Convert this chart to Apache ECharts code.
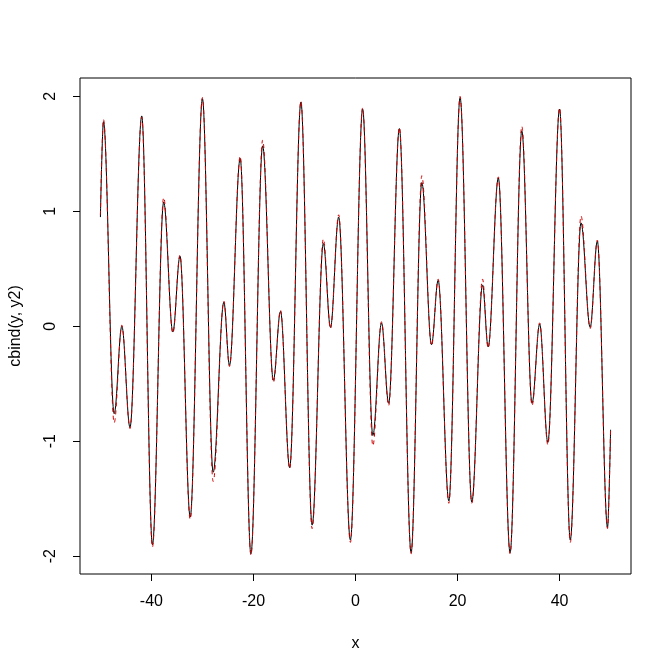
<!DOCTYPE html>
<html>
<head>
<meta charset="utf-8">
<script src="https://cdn.jsdelivr.net/npm/echarts@6/dist/echarts.min.js"></script>
<style>html,body{margin:0;padding:0;background:#fff}#c{width:672px;height:672px}</style>
</head>
<body>
<div id="c"></div>
<script>
// x positions of the turning points
const xs = [-50, -49.4, -47.3, -45.8, -44.2, -41.9, -39.8, -37.6, -35.8, -34.4, -32.4, -30.0, -27.9, -25.8, -24.7, -22.6, -20.5, -18.2, -16.1, -14.7, -12.9, -10.7, -8.5, -6.3, -4.9, -3.3, -1.0, 1.4, 3.4, 5.1, 6.5, 8.6, 10.9, 13.0, 14.9, 16.2, 18.3, 20.5, 22.8, 24.9, 26.0, 28.0, 30.3, 32.6, 34.6, 36.1, 37.7, 40.0, 42.1, 44.2, 46.0, 47.4, 49.4, 50];
// y (black, solid)
const y = [0.95, 1.78, -0.76, 0.0, -0.88, 1.83, -1.90, 1.08, -0.05, 0.61, -1.66, 1.98, -1.27, 0.21, -0.34, 1.46, -1.98, 1.57, -0.47, 0.13, -1.23, 1.95, -1.73, 0.72, -0.01, 0.95, -1.86, 1.89, -0.95, 0.03, -0.67, 1.72, -1.97, 1.25, -0.16, 0.40, -1.52, 1.99, -1.53, 0.36, -0.18, 1.29, -1.97, 1.70, -0.67, 0.02, -1.01, 1.89, -1.86, 0.90, -0.01, 0.74, -1.75, -0.90];
// y2 (red, dashed)
const y2 = [0.97, 1.80, -0.84, 0.01, -0.89, 1.82, -1.92, 1.12, -0.06, 0.62, -1.68, 1.99, -1.35, 0.22, -0.35, 1.48, -1.99, 1.62, -0.49, 0.14, -1.24, 1.96, -1.76, 0.76, -0.02, 0.97, -1.88, 1.90, -1.04, 0.04, -0.69, 1.73, -1.98, 1.31, -0.17, 0.41, -1.54, 2.00, -1.54, 0.41, -0.19, 1.30, -1.98, 1.74, -0.69, 0.03, -1.03, 1.90, -1.88, 0.96, -0.02, 0.75, -1.76, -0.88];
const xTicks = [-40, -20, 0, 20, 40];
const yTicks = [-2, -1, 0, 1, 2];

const chart = echarts.init(document.getElementById('c'), null, {renderer: 'canvas'});
const font = 'Liberation Sans, Arial, sans-serif';
chart.setOption({
  animation: false,
  backgroundColor: '#ffffff',
  grid: {left: 79, right: 41, top: 78, bottom: 98, show: true, borderColor: '#000', borderWidth: 1, backgroundColor: 'transparent'},
  xAxis: {
    type: 'value', min: -54, max: 54,
    name: 'x', nameLocation: 'middle', nameGap: 62,
    nameTextStyle: {fontFamily: font, fontSize: 16, color: '#000'},
    axisLine: {show: false, onZero: false},
    splitLine: {show: false},
    axisTick: {show: true, inside: false, length: 7, customValues: xTicks, lineStyle: {color: '#000', width: 1}},
    axisLabel: {customValues: xTicks, margin: 20, fontFamily: font, fontSize: 16, color: '#000'}
  },
  yAxis: {
    type: 'value', min: -2.155, max: 2.16,
    name: 'cbind(y, y2)', nameLocation: 'middle', nameGap: 56,
    nameTextStyle: {fontFamily: font, fontSize: 16, color: '#000'},
    axisLine: {show: false, onZero: false},
    splitLine: {show: false},
    axisTick: {show: true, inside: false, length: 7, customValues: yTicks, lineStyle: {color: '#000', width: 1}},
    axisLabel: {customValues: yTicks, rotate: 90, margin: 21, fontFamily: font, fontSize: 16, color: '#000'}
  },
  series: [
    {type: 'line', data: xs.map((v, i) => [v, y[i]]), showSymbol: false, smooth: 0.36, smoothMonotone: 'x',
     lineStyle: {color: '#000', width: 1, type: 'solid'}},
    {type: 'line', data: xs.map((v, i) => [v, y2[i]]), showSymbol: false, smooth: 0.36, smoothMonotone: 'x',
     lineStyle: {color: '#d00000', width: 1, type: [4, 4]}}
  ]
});
</script>
</body>
</html>
